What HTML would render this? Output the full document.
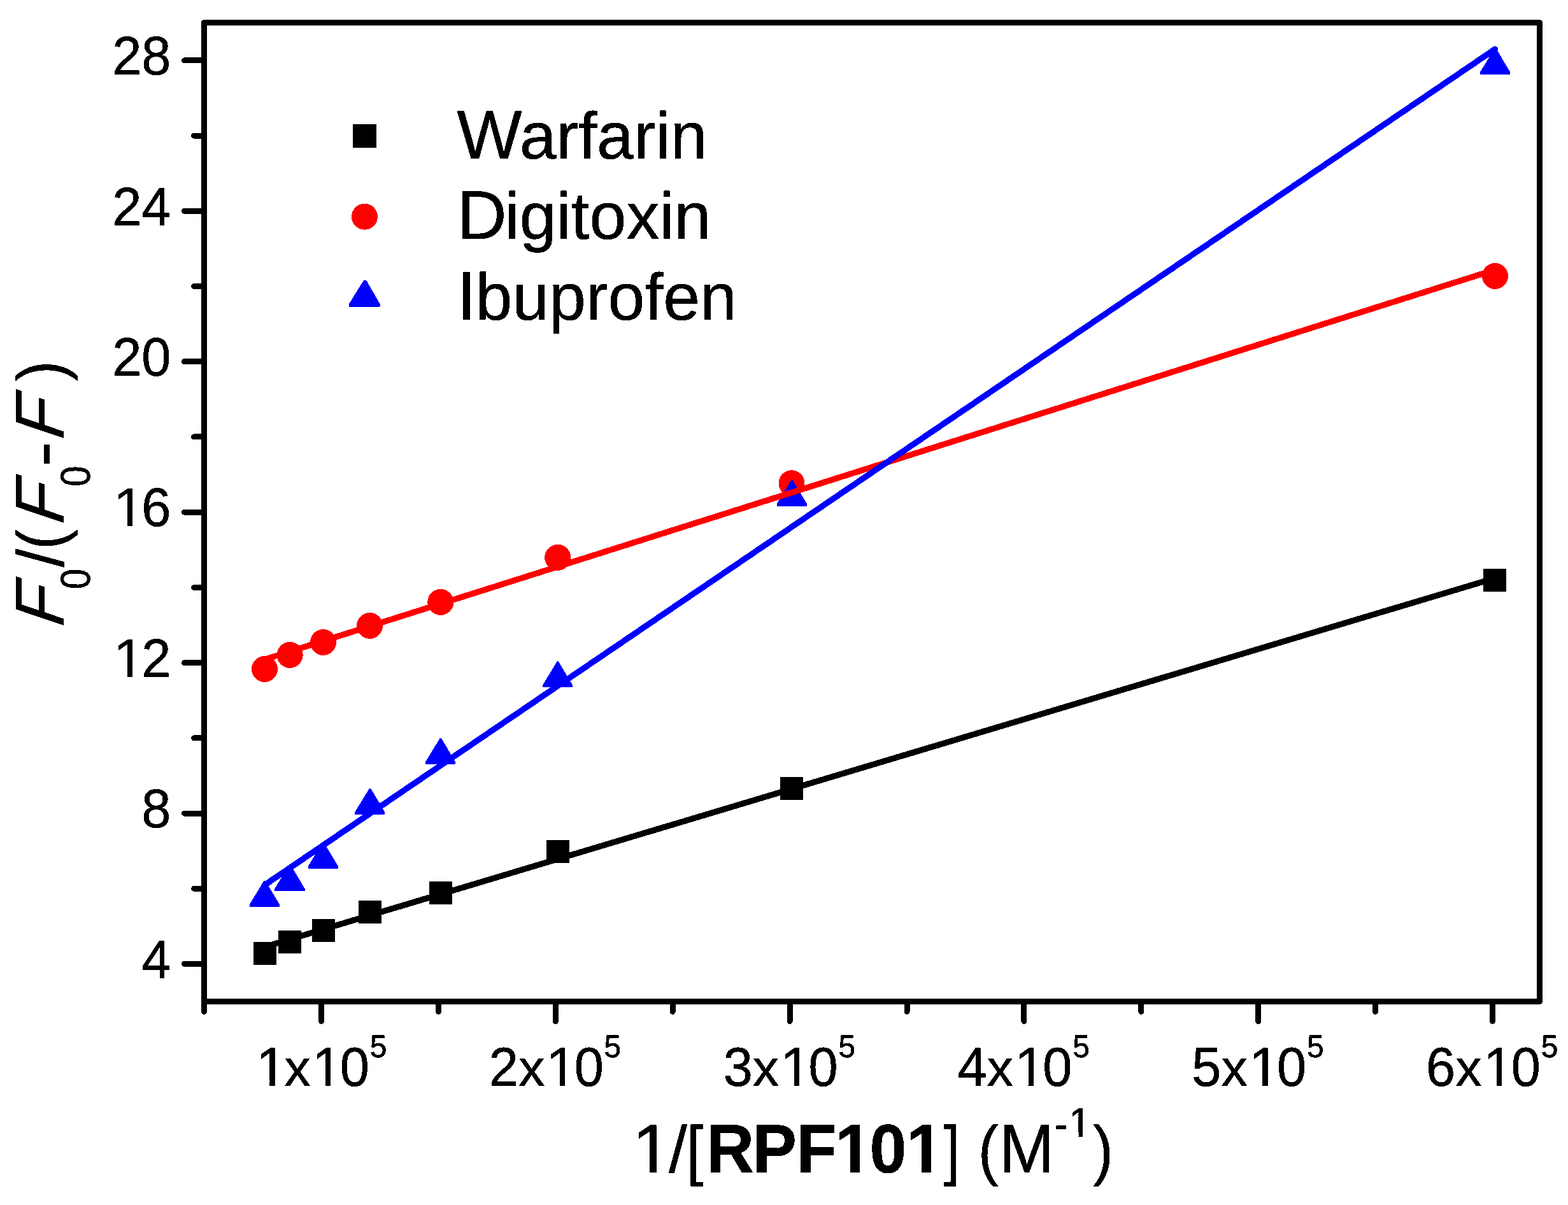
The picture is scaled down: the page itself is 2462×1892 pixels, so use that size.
<!DOCTYPE html>
<html lang="en">
<head>
<meta charset="utf-8">
<title>Double-reciprocal plot: Warfarin, Digitoxin, Ibuprofen vs 1/[RPF101]</title>
<style>
html,body{margin:0;padding:0;background:#fff;}
body{width:2462px;height:1892px;overflow:hidden;}
svg{display:block;position:absolute;left:0;top:0;}
rect,circle,polygon,line{shape-rendering:crispEdges;}
text{font-family:"Liberation Sans",sans-serif;fill:#000;stroke:#000;stroke-width:0.5px;stroke-linejoin:round;font-kerning:none;text-rendering:geometricPrecision;white-space:pre;}
.tick{font-size:83px;}
.sup{font-size:48px;}
.big{font-size:104px;}
.cap{font-size:108.2px;}
.bsup{font-size:63px;}
.b{font-weight:bold;}
.ax{stroke:#000;stroke-width:9;fill:none;stroke-linecap:round;}
</style>
</head>
<body>
<svg width="2462" height="1892" viewBox="0 0 2462 1892">
<defs><filter id="hard" x="-5%" y="-5%" width="110%" height="110%" color-interpolation-filters="sRGB"><feComponentTransfer><feFuncA type="discrete" tableValues="0 1"/></feComponentTransfer></filter><clipPath id="c1t"><polygon points="-16.6,-83 66.4,-83 66.4,-7.5 28.51,-7.5 28.51,4.15 20.57,4.15 20.57,-7.5 -16.6,-7.5"/></clipPath><clipPath id="c1b"><polygon points="-20.8,-104 83.2,-104 83.2,-9.07 35.64,-9.07 35.64,5.2 25.85,5.2 25.85,-9.07 -20.8,-9.07"/></clipPath><clipPath id="c1s"><polygon points="-12.6,-63 50.4,-63 50.4,-6.01 21.71,-6.01 21.71,3.15 15.54,3.15 15.54,-6.01 -12.6,-6.01"/></clipPath><clipPath id="c1B"><polygon points="-20.8,-104 83.2,-104 83.2,-11.91 38.84,-11.91 38.84,5.2 23.97,5.2 23.97,-11.91 -20.8,-11.91"/></clipPath></defs>
<rect x="0" y="0" width="2462" height="1892" fill="#fff"/>
<g id="series-warfarin"><rect x="398" y="1479" width="36" height="36" fill="#000"/><rect x="437" y="1461" width="36" height="36" fill="#000"/><rect x="490" y="1443" width="36" height="36" fill="#000"/><rect x="563" y="1413.5" width="36" height="36" fill="#000"/><rect x="674" y="1383.5" width="36" height="36" fill="#000"/><rect x="858" y="1319.3" width="36" height="36" fill="#000"/><rect x="1225" y="1220.2" width="36" height="36" fill="#000"/><rect x="2329" y="893.4" width="36" height="36" fill="#000"/></g>
<g id="series-digitoxin"><circle cx="415.6" cy="1050.5" r="20.5" fill="#f00"/><circle cx="455.2" cy="1028.4" r="20.5" fill="#f00"/><circle cx="507.5" cy="1008.4" r="20.5" fill="#f00"/><circle cx="580.6" cy="982.4" r="20.5" fill="#f00"/><circle cx="691.8" cy="945.4" r="20.5" fill="#f00"/><circle cx="875.7" cy="875.3" r="20.5" fill="#f00"/><circle cx="1243" cy="758.7" r="20.5" fill="#f00"/><circle cx="2347.5" cy="433.4" r="20.5" fill="#f00"/></g>
<g id="series-ibuprofen"><polygon points="414.6,1382.7 416.6,1382.7 438.9,1420.1 438.9,1423.7 391.8,1423.7 391.8,1420.1" fill="#00f"/><polygon points="454.2,1357.8 456.2,1357.8 478.5,1395.2 478.5,1398.8 431.4,1398.8 431.4,1395.2" fill="#00f"/><polygon points="506.6,1322.6 508.6,1322.6 530.9,1360 530.9,1363.6 483.8,1363.6 483.8,1360" fill="#00f"/><polygon points="580,1237.8 582,1237.8 604.3,1275.2 604.3,1278.8 557.2,1278.8 557.2,1275.2" fill="#00f"/><polygon points="690.8,1158.9 692.8,1158.9 715.1,1196.3 715.1,1199.9 668,1199.9 668,1196.3" fill="#00f"/><polygon points="874.8,1038.4 876.8,1038.4 899.1,1075.8 899.1,1079.4 852,1079.4 852,1075.8" fill="#00f"/><polygon points="1242.5,753.5 1244.5,753.5 1266.8,790.9 1266.8,794.5 1219.7,794.5 1219.7,790.9" fill="#00f"/><polygon points="2346.9,75.7 2348.9,75.7 2371.2,113.1 2371.2,116.7 2324.1,116.7 2324.1,113.1" fill="#00f"/></g>
<g id="fits" fill="none" stroke-width="9.4" stroke-linecap="round">
<line x1="416" y1="1486.6" x2="2347" y2="907.8" stroke="#000"/>
<line x1="415.6" y1="1035.5" x2="2347.5" y2="423.5" stroke="#f00"/>
<line x1="415.4" y1="1389.7" x2="2347.4" y2="77.2" stroke="#00f"/>
</g>
<g id="axes" class="ax">
<rect x="320.5" y="35.5" width="2097.0" height="1537.0" stroke-linejoin="round"/>
<line x1="320.5" y1="1513.4" x2="289.5" y2="1513.4"/>
<line x1="320.5" y1="1395.2" x2="304.7" y2="1395.2"/>
<line x1="320.5" y1="1277.0" x2="289.5" y2="1277.0"/>
<line x1="320.5" y1="1158.8" x2="304.7" y2="1158.8"/>
<line x1="320.5" y1="1040.6" x2="289.5" y2="1040.6"/>
<line x1="320.5" y1="922.4" x2="304.7" y2="922.4"/>
<line x1="320.5" y1="804.2" x2="289.5" y2="804.2"/>
<line x1="320.5" y1="685.9" x2="304.7" y2="685.9"/>
<line x1="320.5" y1="567.7" x2="289.5" y2="567.7"/>
<line x1="320.5" y1="449.5" x2="304.7" y2="449.5"/>
<line x1="320.5" y1="331.3" x2="289.5" y2="331.3"/>
<line x1="320.5" y1="213.1" x2="304.7" y2="213.1"/>
<line x1="320.5" y1="94.9" x2="289.5" y2="94.9"/>
<line x1="320.6" y1="1572.5" x2="320.6" y2="1588.3"/>
<line x1="504.5" y1="1572.5" x2="504.5" y2="1603.5"/>
<line x1="688.4" y1="1572.5" x2="688.4" y2="1588.3"/>
<line x1="872.3" y1="1572.5" x2="872.3" y2="1603.5"/>
<line x1="1056.2" y1="1572.5" x2="1056.2" y2="1588.3"/>
<line x1="1240.1" y1="1572.5" x2="1240.1" y2="1603.5"/>
<line x1="1424.0" y1="1572.5" x2="1424.0" y2="1588.3"/>
<line x1="1607.9" y1="1572.5" x2="1607.9" y2="1603.5"/>
<line x1="1791.8" y1="1572.5" x2="1791.8" y2="1588.3"/>
<line x1="1975.7" y1="1572.5" x2="1975.7" y2="1603.5"/>
<line x1="2159.6" y1="1572.5" x2="2159.6" y2="1588.3"/>
<line x1="2343.5" y1="1572.5" x2="2343.5" y2="1603.5"/>
</g>
<g id="ylabels" filter="url(#hard)">
<g><text class="tick" transform="translate(222.34,1535.7) scale(1,1.03)">4</text></g>
<g><text class="tick" transform="translate(222.34,1299.28) scale(1,1.03)">8</text></g>
<g><text class="tick" transform="translate(178.25,1062.87) scale(1.04,1.03)" clip-path="url(#c1t)">1</text><text class="tick" transform="translate(222.34,1062.87) scale(1,1.03)">2</text></g>
<g><text class="tick" transform="translate(178.25,826.45) scale(1.04,1.03)" clip-path="url(#c1t)">1</text><text class="tick" transform="translate(222.34,826.45) scale(1,1.03)">6</text></g>
<g><text class="tick" transform="translate(176.18,590.04) scale(1,1.03)">20</text></g>
<g><text class="tick" transform="translate(176.18,353.62) scale(1,1.03)">24</text></g>
<g><text class="tick" transform="translate(176.18,117.2) scale(1,1.03)">28</text></g>
</g>
<g id="xlabels" filter="url(#hard)">
<g><text class="tick" transform="translate(402.1,1705) scale(1.04,1.04)" clip-path="url(#c1t)">1</text><text class="tick" transform="translate(446.19,1705) scale(1,0.98)">x</text><text class="tick" transform="translate(489.76,1705) scale(1.04,1.04)" clip-path="url(#c1t)">1</text><text class="tick" transform="translate(533.85,1705) scale(1,1.04)">0</text><text class="sup" transform="translate(580.81,1660) scale(1,1.04)">5</text></g>
<g><text class="tick" transform="translate(767.83,1705) scale(1,1.04)">2</text><text class="tick" transform="translate(813.99,1705) scale(1,0.98)">x</text><text class="tick" transform="translate(857.56,1705) scale(1.04,1.04)" clip-path="url(#c1t)">1</text><text class="tick" transform="translate(901.65,1705) scale(1,1.04)">0</text><text class="sup" transform="translate(948.61,1660) scale(1,1.04)">5</text></g>
<g><text class="tick" transform="translate(1135.63,1705) scale(1,1.04)">3</text><text class="tick" transform="translate(1181.79,1705) scale(1,0.98)">x</text><text class="tick" transform="translate(1225.36,1705) scale(1.04,1.04)" clip-path="url(#c1t)">1</text><text class="tick" transform="translate(1269.45,1705) scale(1,1.04)">0</text><text class="sup" transform="translate(1316.41,1660) scale(1,1.04)">5</text></g>
<g><text class="tick" transform="translate(1503.43,1705) scale(1,1.04)">4</text><text class="tick" transform="translate(1549.59,1705) scale(1,0.98)">x</text><text class="tick" transform="translate(1593.16,1705) scale(1.04,1.04)" clip-path="url(#c1t)">1</text><text class="tick" transform="translate(1637.25,1705) scale(1,1.04)">0</text><text class="sup" transform="translate(1684.21,1660) scale(1,1.04)">5</text></g>
<g><text class="tick" transform="translate(1871.23,1705) scale(1,1.04)">5</text><text class="tick" transform="translate(1917.39,1705) scale(1,0.98)">x</text><text class="tick" transform="translate(1960.96,1705) scale(1.04,1.04)" clip-path="url(#c1t)">1</text><text class="tick" transform="translate(2005.05,1705) scale(1,1.04)">0</text><text class="sup" transform="translate(2052.01,1660) scale(1,1.04)">5</text></g>
<g><text class="tick" transform="translate(2239.03,1705) scale(1,1.04)">6</text><text class="tick" transform="translate(2285.19,1705) scale(1,0.98)">x</text><text class="tick" transform="translate(2328.76,1705) scale(1.04,1.04)" clip-path="url(#c1t)">1</text><text class="tick" transform="translate(2372.85,1705) scale(1,1.04)">0</text><text class="sup" transform="translate(2419.81,1660) scale(1,1.04)">5</text></g>
</g>
<g id="legend" filter="url(#hard)">
<rect x="554" y="194.9" width="37" height="37" fill="#000"/>
<circle cx="572.5" cy="340.2" r="20.5" fill="#f00"/>
<polygon points="571.2,439.9 575,439.9 597.1,478 597.1,480.1 595.7,481.9 548,481.9 548,477.2" fill="#00f"/>
<text class="big" x="717.5" y="248.7"><tspan class="cap">W</tspan><tspan dx="-3.93">arfarin</tspan></text>
<text class="big" x="717.5" y="375"><tspan class="cap">D</tspan><tspan dx="-3.00">igitoxin</tspan></text>
<text class="big" x="717.5" y="501.8"><tspan class="cap">I</tspan><tspan dx="-1.16">buprofen</tspan></text>
</g>
<g id="xtitle" filter="url(#hard)"><text class="big" transform="translate(992.53,1841.2) scale(1.07,1.04)" clip-path="url(#c1b)">1</text><text class="big" transform="translate(1049.9,1841.2)">/</text><text class="big" transform="translate(1078,1841.2) scale(0.92,1)">[</text><text class="big b" transform="translate(0,1841.2) scale(1,1.04)" x="1108.9 1181.4 1250.3">RPF</text><text class="big b" transform="translate(1311,1841.2) scale(1,1.04)" clip-path="url(#c1B)">1</text><text class="big b" transform="translate(1365.5,1841.2) scale(1,1.04)">0</text><text class="big b" transform="translate(1423,1841.2) scale(1,1.04)" clip-path="url(#c1B)">1</text><text class="big" transform="translate(1481.2,1841.2) scale(0.92,1)">]</text><text class="big" transform="translate(1510,1841.2)"> </text><text class="big" transform="translate(1535.8,1841.2) scale(0.92,1)">(</text><text class="big" transform="translate(1569.1,1841.2) scale(1,1.04)">M</text><text class="bsup" transform="translate(1655.8,1786.5)">-</text><text class="bsup" transform="translate(1677.99,1785) scale(1,1.04)" clip-path="url(#c1s)">1</text><text class="big" transform="translate(1716.2,1841.2) scale(0.92,1)">)</text></g>
<g id="ytitle" filter="url(#hard)"><text class="big" transform="translate(99.7,989.9) rotate(-90) scale(1,1.04) skewX(-19.31)">F</text><text class="bsup" transform="translate(141.2,925.2) rotate(-90) scale(0.93,1.04)">0</text><text class="big" transform="translate(99.7,890.8) rotate(-90)">/</text><text class="big" transform="translate(99.7,863) rotate(-90) scale(0.92,1)">(</text><text class="big" transform="translate(99.7,828.9) rotate(-90) scale(1,1.04) skewX(-19.31)">F</text><text class="bsup" transform="translate(141.2,764) rotate(-90) scale(0.93,1.04)">0</text><text class="big" transform="translate(103.7,732.5) rotate(-90) scale(1.12,1.1)">-</text><text class="big" transform="translate(99.7,696.1) rotate(-90) scale(1,1.04) skewX(-19.31)">F</text><text class="big" transform="translate(99.7,598.5) rotate(-90) scale(0.92,1)">)</text></g>
</svg>
</body>
</html>
